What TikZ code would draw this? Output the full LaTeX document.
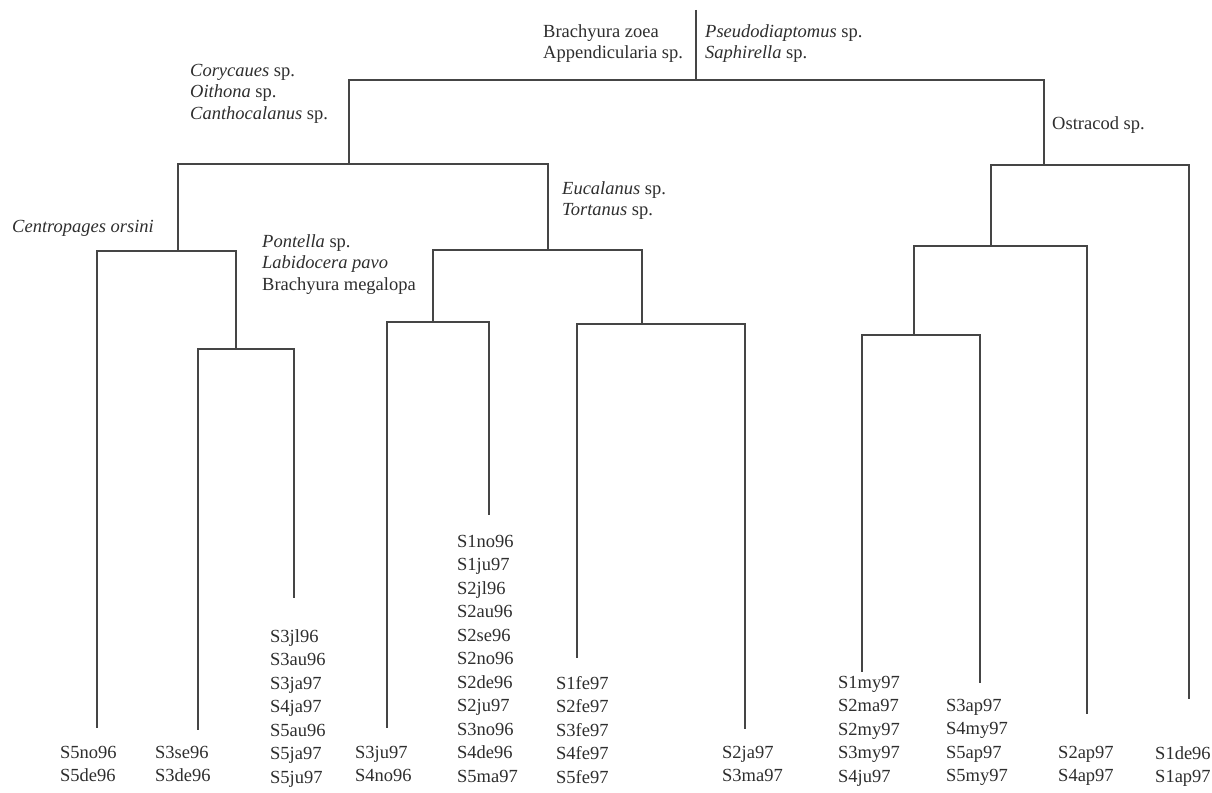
\documentclass[tikz,border=0pt]{standalone}
\usepackage{fontspec}
\setmainfont{Liberation Serif}
\definecolor{linecol}{HTML}{454545}
\definecolor{txtcol}{HTML}{2E2E2E}
\newcommand\labfont{\fontsize{18.5}{23.5}\selectfont}
\newcommand\taxfont{\fontsize{18.5}{21.5}\selectfont}
\tikzset{
  branch/.style={draw=linecol, line width=1.3pt},
  heavy/.style={draw=linecol, line width=2.4pt},
  leaflab/.style={font=\labfont, text=txtcol, align=left, inner sep=0pt, anchor=north west},
  taxlab/.style={font=\taxfont, text=txtcol, align=left, inner sep=0pt, anchor=north west},
}
\begin{document}
\begin{tikzpicture}[x=1pt,y=-1pt]
\useasboundingbox[fill=white] (0,0) rectangle (1212,792);
% junctions
\coordinate (rt) at (696,10);
\coordinate (r) at (696,80);
\coordinate (a) at (349,164);
\coordinate (b) at (1044,165);
\coordinate (c) at (178,251);
\coordinate (d) at (548,250);
\coordinate (e) at (236,349);
\coordinate (f) at (433,322);
\coordinate (g) at (642,324);
\coordinate (h) at (991,246);
\coordinate (i) at (914,335);
% leaf ends
\coordinate (l1) at (97,728);
\coordinate (l2) at (198,730);
\coordinate (l3) at (294,598);
\coordinate (l4) at (387,728);
\coordinate (l5) at (489,515);
\coordinate (l6) at (577,658);
\coordinate (l7) at (745,729);
\coordinate (l8) at (862,672);
\coordinate (l9) at (980,683);
\coordinate (l10) at (1087,714);
\coordinate (l11) at (1189,699);
% branches
\draw[branch] (rt) -- (r);
\draw[branch] (r) -| (a);
\draw[heavy] (r) -| (b);
\draw[heavy] (a) -| (c);
\draw[branch] (a) -| (d);
\draw[heavy] (c) -| (l1);
\draw[branch] (c) -| (e);
\draw[heavy] (e) -| (l2);
\draw[branch] (e) -| (l3);
\draw[heavy] (f |- d) -- (g |- d);
\draw[branch] (d) -| (f);
\draw[branch] (d) -| (g);
\draw[heavy] (f) -| (l4);
\draw[branch] (f) -| (l5);
\draw[branch] (g) -| (l6);
\draw[branch] (g) -| (l7);
\draw[heavy] (b) -| (h);
\draw[branch] (b) -| (l11);
\draw[heavy] (i |- h) -- (l10 |- h);
\draw[heavy] (h) -| (i);
\draw[branch] (h) -| (l10);
\draw[branch] (i) -| (l8);
\draw[branch] (i) -| (l9);
% taxon labels
\node[taxlab] (t1) at (543,24) {Brachyura zoea\\Appendicularia sp.};
\node[taxlab] (t2) at (705,24) {\textit{Pseudodiaptomus} sp.\\\textit{Saphirella} sp.};
\node[taxlab] (t3) at (190,64) {\textit{Corycaues} sp.\\\textit{Oithona} sp.\\\textit{Canthocalanus} sp.};
\node[taxlab] (t4) at (12,220) {\textit{Centropages orsini}};
\node[taxlab] (t5) at (262,234) {\textit{Pontella} sp.\\\textit{Labidocera pavo}\\Brachyura megalopa};
\node[taxlab] (t6) at (562,181) {\textit{Eucalanus} sp.\\\textit{Tortanus} sp.};
\node[taxlab] (t7) at (1052,116) {Ostracod sp.};
% leaf labels
\node[leaflab] (g1) at (60,746) {S5no96\\S5de96};
\node[leaflab] (g2) at (155,746) {S3se96\\S3de96};
\node[leaflab] (g3) at (270,629) {S3jl96\\S3au96\\S3ja97\\S4ja97\\S5au96\\S5ja97\\S5ju97};
\node[leaflab] (g4) at (355,746) {S3ju97\\S4no96};
\node[leaflab] (g5) at (457,535) {S1no96\\S1ju97\\S2jl96\\S2au96\\S2se96\\S2no96\\S2de96\\S2ju97\\S3no96\\S4de96\\S5ma97};
\node[leaflab] (g6) at (556,676) {S1fe97\\S2fe97\\S3fe97\\S4fe97\\S5fe97};
\node[leaflab] (g7) at (722,746) {S2ja97\\S3ma97};
\node[leaflab] (g8) at (838,676) {S1my97\\S2ma97\\S2my97\\S3my97\\S4ju97};
\node[leaflab] (g9) at (946,699) {S3ap97\\S4my97\\S5ap97\\S5my97};
\node[leaflab] (g10) at (1058,746) {S2ap97\\S4ap97};
\node[leaflab] (g11) at (1155,746) {S1de96\\S1ap97};
\end{tikzpicture}
\end{document}
